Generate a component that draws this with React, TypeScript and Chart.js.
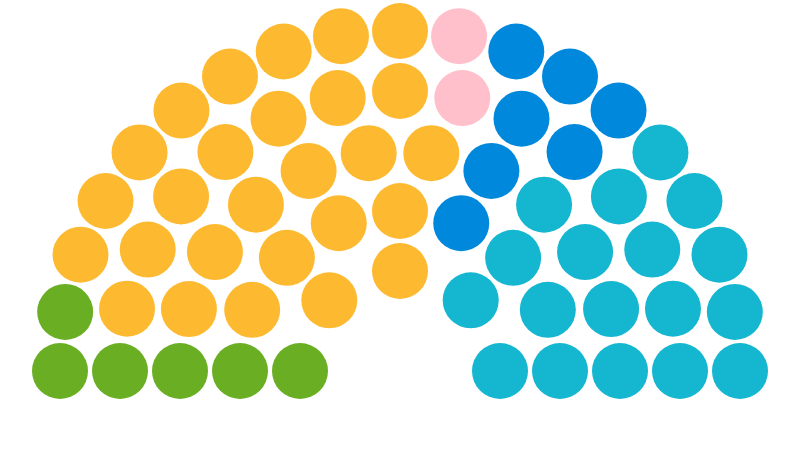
import React, { useEffect, useRef } from "react";
import { Chart, registerables } from "chart.js";

Chart.register(...registerables);

// Parliament composition
const parties: string[] = ["Party A", "Party B", "Party C", "Party D", "Party E"];
const seats: number[] = [6, 27, 2, 7, 18];
const partyColors: string[] = ["#6AAE24", "#FDBA31", "#FFC0CB", "#0088DC", "#14B6D0"];

// Hemicycle layout: seats per row (inner to outer)
const rowSeatCounts: number[] = [5, 9, 12, 15, 19];
const INNER_RADIUS = 100;
const ROW_STEP = 60;
const DOT_RADIUS = 28;

type Slot = { angle: number; r: number; row: number };

function buildDatasets() {
  const slots: Slot[] = [];
  rowSeatCounts.forEach((n, row) => {
    const r = INNER_RADIUS + row * ROW_STEP;
    for (let k = 0; k < n; k++) {
      const angle = -90 + (180 * k) / (n - 1);
      slots.push({ angle, r, row });
    }
  });
  slots.sort((a, b) => (Math.abs(a.angle - b.angle) < 1e-9 ? a.row - b.row : a.angle - b.angle));
  let idx = 0;
  return parties.map((name, p) => {
    const pts: { x: number; y: number }[] = [];
    for (let s = 0; s < seats[p]; s++) {
      const slot = slots[idx++];
      if (!slot) break;
      const rad = (slot.angle * Math.PI) / 180;
      pts.push({ x: slot.r * Math.sin(rad), y: slot.r * Math.cos(rad) });
    }
    return {
      label: name,
      data: pts,
      backgroundColor: partyColors[p],
      borderWidth: 0,
      pointRadius: DOT_RADIUS,
      pointHoverRadius: DOT_RADIUS,
      pointHoverBorderWidth: 0,
      clip: false as any,
    };
  });
}

export default function App() {
  const canvasRef = useRef<HTMLCanvasElement | null>(null);

  useEffect(() => {
    document.body.style.margin = "0";
    const ctx = canvasRef.current;
    if (!ctx) return;
    const chart = new Chart(ctx, {
      type: "scatter",
      data: { datasets: buildDatasets() as any },
      options: {
        responsive: false,
        animation: false,
        layout: { padding: 0, autoPadding: false },
        plugins: { legend: { display: false }, tooltip: { enabled: false } },
        scales: {
          x: { type: "linear", display: false, min: -400, max: 400 },
          y: { type: "linear", display: false, min: -79, max: 371 },
        },
      },
    });
    return () => chart.destroy();
  }, []);

  return (
    <div style={{ width: 800, height: 450, background: "#ffffff" }}>
      <canvas ref={canvasRef} width={800} height={450} />
    </div>
  );
}
